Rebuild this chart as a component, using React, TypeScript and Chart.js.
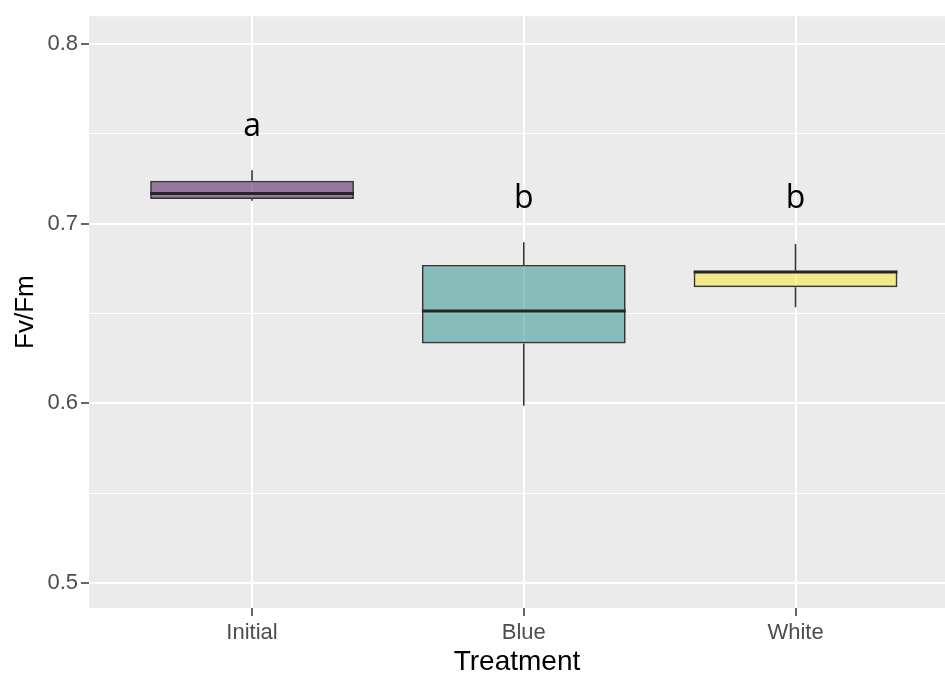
import React, { useEffect, useRef } from "react";
import { Chart, registerables } from "chart.js";

Chart.register(...registerables);

// Box-plot summary of Fv/Fm per light treatment
const treatments = ["Initial", "Blue", "White"];
const whiskerLow = [0.7127, 0.5987, 0.6535];
const lowerQuartile = [0.7137, 0.6333, 0.6646];
const medians = [0.7168, 0.6513, 0.6731];
const upperQuartile = [0.7238, 0.677, 0.6737];
const whiskerHigh = [0.7297, 0.6896, 0.6887];

// Significance group letters and the Fv/Fm level of their baseline
const groupLetters = ["a", "b", "b"];
const letterLevel = [0.749, 0.7085, 0.7085];

const boxFills = ["rgba(68,1,84,0.5)", "rgba(33,144,140,0.5)", "rgba(253,231,37,0.5)"];

const yMajorTicks = [0.5, 0.6, 0.7, 0.8];
const yMinorTicks = [0.55, 0.65, 0.75];
const yMin = 0.4861;
const yMax = 0.8154;
const xMin = -0.6;
const xMax = 2.55;
const boxWidth = 0.75;

const INK = "#333333";
const TICK_TEXT = "#4D4D4D";
const PANEL = "#EBEBEB";

const panelBackground = {
  id: "panelBackground",
  beforeDraw(chart: any) {
    const { ctx, chartArea, width, height } = chart;
    ctx.save();
    ctx.fillStyle = "#FFFFFF";
    ctx.fillRect(0, 0, width, height);
    ctx.fillStyle = PANEL;
    ctx.fillRect(chartArea.left, chartArea.top, chartArea.right - chartArea.left, chartArea.bottom - chartArea.top);
    ctx.restore();
  },
};

const letterLabels = {
  id: "letterLabels",
  afterDatasetsDraw(chart: any) {
    const { ctx, scales } = chart;
    ctx.save();
    ctx.fillStyle = "#000000";
    ctx.font = "32px 'Open Sans', sans-serif";
    ctx.textAlign = "center";
    ctx.textBaseline = "alphabetic";
    groupLetters.forEach((letter, i) => {
      ctx.fillText(letter, scales.x.getPixelForValue(i), scales.y.getPixelForValue(letterLevel[i]));
    });
    ctx.restore();
  },
};

export default function App() {
  const canvasRef = useRef<HTMLCanvasElement | null>(null);

  useEffect(() => {
    const canvas = canvasRef.current;
    if (!canvas) return;

    const whiskerPoints: any[] = [];
    const medianPoints: any[] = [];
    treatments.forEach((_, i) => {
      whiskerPoints.push({ x: i, y: upperQuartile[i] }, { x: i, y: whiskerHigh[i] }, { x: i, y: null });
      whiskerPoints.push({ x: i, y: lowerQuartile[i] }, { x: i, y: whiskerLow[i] }, { x: i, y: null });
      medianPoints.push(
        { x: i - boxWidth / 2, y: medians[i] },
        { x: i + boxWidth / 2, y: medians[i] },
        { x: i, y: null }
      );
    });

    const isMajor = (v: number) => yMajorTicks.some((m) => Math.abs(m - v) < 1e-9);

    const chart = new Chart(canvas, {
      type: "bar",
      data: {
        datasets: [
          {
            type: "line",
            data: whiskerPoints,
            borderColor: INK,
            borderWidth: 1.6,
            pointRadius: 0,
            spanGaps: false,
            order: 3,
          } as any,
          {
            type: "bar",
            data: treatments.map((_, i) => ({ x: i, y: [lowerQuartile[i], upperQuartile[i]] })),
            backgroundColor: boxFills,
            borderColor: "#363636",
            borderWidth: 1.7,
            borderSkipped: false,
            barPercentage: boxWidth,
            categoryPercentage: 1,
            order: 2,
          } as any,
          {
            type: "line",
            data: medianPoints,
            borderColor: "#262626",
            borderWidth: 3,
            pointRadius: 0,
            spanGaps: false,
            order: 1,
          } as any,
        ],
      },
      options: {
        animation: false,
        responsive: false,
        layout: { padding: { top: 15, right: 0, bottom: 0, left: 0 } },
        plugins: {
          legend: { display: false },
          tooltip: { enabled: false },
        },
        scales: {
          x: {
            type: "linear",
            min: xMin,
            max: xMax,
            offset: false,
            afterBuildTicks: (scale: any) => {
              scale.ticks = treatments.map((_, i) => ({ value: i }));
            },
            afterFit: (scale: any) => {
              scale.height = 67;
            },
            ticks: {
              autoSkip: false,
              maxRotation: 0,
              padding: 4,
              color: TICK_TEXT,
              font: { family: "'Liberation Sans', Arial, sans-serif", size: 22 },
              callback: (v: any) => treatments[Math.round(Number(v))] ?? "",
            },
            grid: {
              offset: false,
              color: "#FFFFFF",
              lineWidth: 2,
              tickColor: INK,
              tickWidth: 1.5,
              tickLength: 8,
            },
            border: { display: false },
            title: {
              display: true,
              text: "Treatment",
              color: "#000000",
              font: { family: "'Liberation Sans', Arial, sans-serif", size: 28 },
              padding: { top: 0, bottom: -4 },
            },
          },
          y: {
            type: "linear",
            min: yMin,
            max: yMax,
            afterBuildTicks: (scale: any) => {
              scale.ticks = [...yMajorTicks, ...yMinorTicks]
                .sort((a, b) => a - b)
                .map((v) => ({ value: v }));
            },
            afterFit: (scale: any) => {
              scale.width = 89;
            },
            ticks: {
              autoSkip: false,
              padding: 3,
              color: TICK_TEXT,
              font: { family: "'Liberation Sans', Arial, sans-serif", size: 22 },
              callback: (v: any) => (isMajor(Number(v)) ? Number(v).toFixed(1) : ""),
            },
            grid: {
              color: "#FFFFFF",
              lineWidth: (c: any) => (c.tick && isMajor(c.tick.value) ? 2 : 1),
              tickColor: (c: any) => (c.tick && isMajor(c.tick.value) ? INK : "rgba(0,0,0,0)"),
              tickWidth: 1.5,
              tickLength: 8,
            },
            border: { display: false },
            title: {
              display: true,
              text: "Fv/Fm",
              color: "#000000",
              font: { family: "'Liberation Sans', Arial, sans-serif", size: 26 },
              padding: { top: 10, bottom: 0 },
            },
          },
        },
      } as any,
      plugins: [panelBackground, letterLabels],
    });

    return () => chart.destroy();
  }, []);

  return (
    <div style={{ position: "absolute", left: 0, top: 0, width: 945, height: 675 }}>
      <canvas ref={canvasRef} width={945} height={675} style={{ display: "block" }} />
    </div>
  );
}
